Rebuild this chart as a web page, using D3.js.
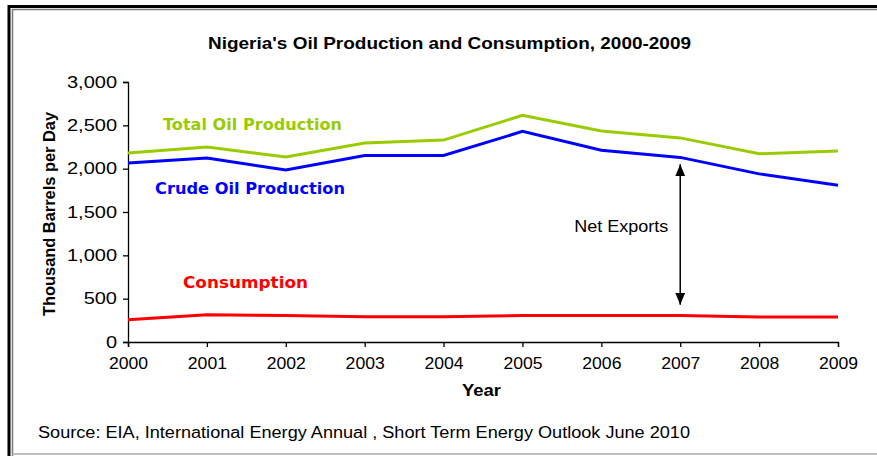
<!DOCTYPE html>
<html>
<head>
<meta charset="utf-8">
<script src="https://cdn.jsdelivr.net/npm/d3@7"></script>
<style>
  body { margin: 0; background: #fff; }
  svg { display: block; font-family: "Liberation Sans", Arial, sans-serif; }
  .axis path, .axis line { stroke: #000; stroke-width: 1.3px; }
  .axis text { font-size: 16px; fill: #000; }
  .lbl { font-family: "DejaVu Sans", Verdana, sans-serif; font-weight: bold; font-size: 15px; }
</style>
</head>
<body>
<svg id="chart" width="877" height="456"></svg>
<script>
var years = [2000, 2001, 2002, 2003, 2004, 2005, 2006, 2007, 2008, 2009];
var totalProduction = [2180, 2250, 2135, 2295, 2330, 2615, 2435, 2355, 2172, 2205];
var crudeProduction = [2065, 2123, 1985, 2152, 2152, 2430, 2213, 2130, 1940, 1808];
var consumption = [258, 315, 305, 290, 290, 305, 305, 305, 288, 288];
var yTicks = [0, 500, 1000, 1500, 2000, 2500, 3000];

// net exports arrow, in data units (year, value)
var arrowYear = 2007;
var arrowTop = 2050;
var arrowBottom = 430;

var margin = {top: 82, right: 39, bottom: 114, left: 128};
var width = 877 - margin.left - margin.right;
var height = 456 - margin.top - margin.bottom;

var svg = d3.select('#chart');

// stretch text to a given width (the original glyphs are wider than Arial)
function fit(sel, len) {
  sel.attr('textLength', len).attr('lengthAdjust', 'spacingAndGlyphs');
}

// frame
svg.append('line').attr('x1', 9).attr('x2', 9).attr('y1', 5).attr('y2', 456)
  .attr('stroke', '#000').attr('stroke-width', 3);
svg.append('line').attr('x1', 12.5).attr('x2', 12.5).attr('y1', 9).attr('y2', 456)
  .attr('stroke', '#777').attr('stroke-width', 1.5);
svg.append('line').attr('x1', 8).attr('x2', 877).attr('y1', 6.5).attr('y2', 6.5)
  .attr('stroke', '#000').attr('stroke-width', 3);
svg.append('line').attr('x1', 12).attr('x2', 877).attr('y1', 9.5).attr('y2', 9.5)
  .attr('stroke', '#777').attr('stroke-width', 1.5);
svg.append('line').attr('x1', 12).attr('x2', 877).attr('y1', 454).attr('y2', 454)
  .attr('stroke', '#aaa').attr('stroke-width', 1.5);

var x = d3.scaleLinear()
  .domain([years[0], years[years.length - 1]])
  .range([0, width]);
var y = d3.scaleLinear()
  .domain([0, 3000])
  .range([height, 0]);

var g = svg.append('g')
  .attr('transform', 'translate(' + margin.left + ',' + margin.top + ')');

var xAxis = g.append('g')
  .attr('class', 'axis')
  .attr('transform', 'translate(0,' + height + ')')
  .call(d3.axisBottom(x).tickValues(years).tickFormat(d3.format('d')).tickSize(5).tickPadding(11));

var yAxis = g.append('g')
  .attr('class', 'axis')
  .call(d3.axisLeft(y).tickValues(yTicks).tickFormat(d3.format(',')).tickSize(5).tickPadding(6));

xAxis.selectAll('text').each(function() {
  fit(d3.select(this), this.getComputedTextLength() * 1.1);
});
yAxis.selectAll('text').each(function() {
  fit(d3.select(this), this.getComputedTextLength() * 1.25);
});

var line = d3.line()
  .x(function(d, i) { return x(years[i]); })
  .y(function(d) { return y(d); });

var series = [
  {values: totalProduction, color: '#99cc00'},
  {values: crudeProduction, color: '#0000ff'},
  {values: consumption, color: '#ff0000'}
];

g.selectAll('.series')
  .data(series)
  .enter().append('path')
  .attr('class', 'series')
  .attr('fill', 'none')
  .attr('stroke', function(d) { return d.color; })
  .attr('stroke-width', 3)
  .attr('d', function(d) { return line(d.values); });

// series labels
g.append('text').attr('class', 'lbl').attr('x', 35).attr('y', 48).attr('fill', '#99cc00')
  .text('Total Oil Production').call(fit, 179);
g.append('text').attr('class', 'lbl').attr('x', 27).attr('y', 112).attr('fill', '#0000ff')
  .text('Crude Oil Production').call(fit, 190);
g.append('text').attr('class', 'lbl').attr('x', 55).attr('y', 206).attr('fill', '#ff0000')
  .text('Consumption').call(fit, 125);

// net exports arrow
svg.append('defs').append('marker')
  .attr('id', 'head')
  .attr('viewBox', '0 0 12 10')
  .attr('refX', 12).attr('refY', 5)
  .attr('markerWidth', 12).attr('markerHeight', 10)
  .attr('markerUnits', 'userSpaceOnUse')
  .attr('orient', 'auto-start-reverse')
  .append('path').attr('d', 'M0,0 L12,5 L0,10 Z').attr('fill', '#000');

g.append('line')
  .attr('x1', x(arrowYear)).attr('x2', x(arrowYear))
  .attr('y1', y(arrowTop)).attr('y2', y(arrowBottom))
  .attr('stroke', '#000').attr('stroke-width', 1.5)
  .attr('marker-start', 'url(#head)').attr('marker-end', 'url(#head)');

g.append('text')
  .attr('x', x(arrowYear) - 106).attr('y', 150)
  .style('font-size', '16px')
  .text('Net Exports').call(fit, 94);

// titles
svg.append('text')
  .attr('x', 208).attr('y', 49)
  .style('font-size', '17px').style('font-weight', 'bold')
  .text("Nigeria's Oil Production and Consumption, 2000-2009").call(fit, 483);

svg.append('text')
  .attr('x', 462).attr('y', 396)
  .style('font-size', '16px').style('font-weight', 'bold')
  .text('Year').call(fit, 39);

svg.append('text')
  .attr('transform', 'translate(55,316) rotate(-90)')
  .style('font-size', '16px').style('font-weight', 'bold')
  .text('Thousand Barrels per Day').call(fit, 204);

svg.append('text')
  .attr('x', 38).attr('y', 438)
  .style('font-size', '16px')
  .text('Source: EIA, International Energy Annual , Short Term Energy Outlook June 2010').call(fit, 652);
</script>
</body>
</html>
